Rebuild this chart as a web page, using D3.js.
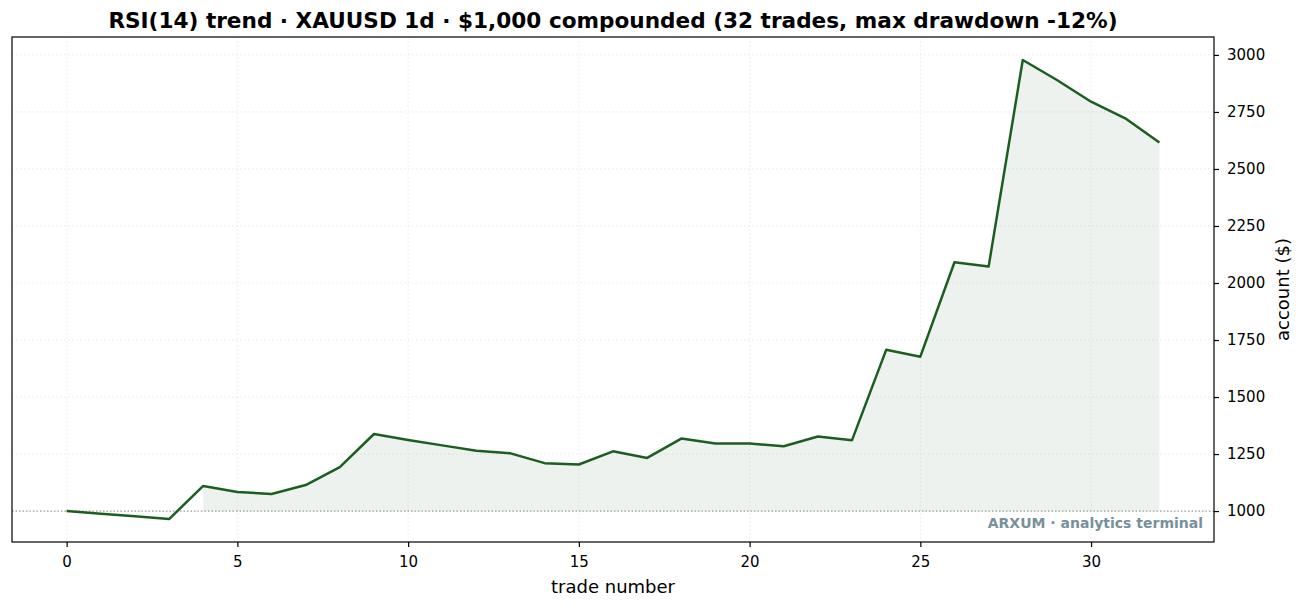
<!DOCTYPE html>
<html>
<head>
<meta charset="utf-8">
<script src="https://cdn.jsdelivr.net/npm/d3@7"></script>
<style>
  body { margin: 0; background: #fff; }
  svg text { font-family: "DejaVu Sans", sans-serif; }
</style>
</head>
<body>
<div id="chart-area"></div>
<script>
// account value after each trade
const tradeNumbers = d3.range(0, 33)
const accountValues = [
  1000, 988, 977, 965, 1110, 1084, 1075, 1114, 1193, 1338,
  1312, 1288, 1264, 1253, 1210, 1204, 1262, 1233, 1318, 1296,
  1296, 1284, 1327, 1311, 1707, 1677, 2091, 2072, 2978, 2890,
  2795, 2722, 2616
]
const startBalance = 1000
const xTicks = [0, 5, 10, 15, 20, 25, 30]
const yTicks = [1000, 1250, 1500, 1750, 2000, 2250, 2500, 2750, 3000]

const data = tradeNumbers.map((t, i) => ({ t: t, v: accountValues[i] }))

const width = 1304
const height = 608
const margin = { left: 12, right: 90, top: 37, bottom: 66 }
const chartWidth = width - margin.left - margin.right
const chartHeight = height - margin.top - margin.bottom

const svg = d3.select("#chart-area").append("svg")
  .attr("width", width)
  .attr("height", height)

const g = svg.append("g")
  .attr("transform", `translate(${margin.left}, ${margin.top})`)

// matplotlib-style 5% margins
const xPad = (d3.max(tradeNumbers) - d3.min(tradeNumbers)) * 0.05
const yMin = d3.min(accountValues), yMax = d3.max(accountValues)
const yPad = (yMax - yMin) * 0.05

const x = d3.scaleLinear()
  .domain([d3.min(tradeNumbers) - xPad, d3.max(tradeNumbers) + xPad])
  .range([0, chartWidth])

const y = d3.scaleLinear()
  .domain([yMin - yPad, yMax + yPad])
  .range([chartHeight, 0])

// grid
g.append("g").selectAll("line")
  .data(xTicks)
  .enter().append("line")
  .attr("x1", d => x(d)).attr("x2", d => x(d))
  .attr("y1", 0).attr("y2", chartHeight)
  .attr("stroke", "#e6e6e6")
  .attr("stroke-width", 0.8)
  .attr("stroke-dasharray", "1.5,2.5")

g.append("g").selectAll("line")
  .data(yTicks)
  .enter().append("line")
  .attr("x1", 0).attr("x2", chartWidth)
  .attr("y1", d => y(d)).attr("y2", d => y(d))
  .attr("stroke", "#e6e6e6")
  .attr("stroke-width", 0.8)
  .attr("stroke-dasharray", "1.5,2.5")

// fill where the account sits above the start balance
const filled = data.filter(d => d.t >= 4)
const area = d3.area()
  .x(d => x(d.t))
  .y0(y(startBalance))
  .y1(d => y(d.v))

g.append("path")
  .datum(filled)
  .attr("d", area)
  .attr("fill", "#1b5e20")
  .attr("fill-opacity", 0.08)

// start balance reference line
g.append("line")
  .attr("x1", 0).attr("x2", chartWidth)
  .attr("y1", y(startBalance)).attr("y2", y(startBalance))
  .attr("stroke", "#9e9e9e")
  .attr("stroke-width", 1.2)
  .attr("stroke-dasharray", "1.5,2")

const line = d3.line()
  .x(d => x(d.t))
  .y(d => y(d.v))

g.append("path")
  .datum(data)
  .attr("d", line)
  .attr("fill", "none")
  .attr("stroke", "#1b5e20")
  .attr("stroke-width", 2.5)
  .attr("stroke-linejoin", "round")

// axes
const xAxisCall = d3.axisBottom(x).tickValues(xTicks).tickSize(5).tickPadding(9)
  .tickFormat(d3.format("d"))
const yAxisCall = d3.axisRight(y).tickValues(yTicks).tickSize(5).tickPadding(8)
  .tickFormat(d3.format("d"))

const xAxisG = g.append("g")
  .attr("transform", `translate(0, ${chartHeight})`)
  .call(xAxisCall)
const yAxisG = g.append("g")
  .attr("transform", `translate(${chartWidth}, 0)`)
  .call(yAxisCall)

;[xAxisG, yAxisG].forEach(a => {
  a.select(".domain").remove()
  a.selectAll("text").attr("font-size", "15px").attr("fill", "#000")
    .attr("font-family", "DejaVu Sans")
  a.selectAll("line").attr("stroke", "#000").attr("stroke-width", 1.2)
})

// frame
g.append("rect")
  .attr("width", chartWidth)
  .attr("height", chartHeight)
  .attr("fill", "none")
  .attr("stroke", "#000")
  .attr("stroke-width", 1.2)

// labels
g.append("text")
  .attr("x", chartWidth / 2)
  .attr("y", chartHeight + 51)
  .attr("font-size", "18px")
  .attr("text-anchor", "middle")
  .text("trade number")

g.append("text")
  .attr("transform", `translate(${chartWidth + 75}, ${chartHeight / 2}) rotate(-90)`)
  .attr("font-size", "18px")
  .attr("text-anchor", "middle")
  .text("account ($)")

svg.append("text")
  .attr("x", margin.left + chartWidth / 2)
  .attr("y", 28)
  .attr("font-size", "21.6px")
  .attr("font-weight", "bold")
  .attr("text-anchor", "middle")
  .text("RSI(14) trend · XAUUSD 1d · $1,000 compounded (32 trades, max drawdown -12%)")

g.append("text")
  .attr("x", chartWidth - 11)
  .attr("y", chartHeight - 14)
  .attr("font-size", "14px")
  .attr("font-weight", "bold")
  .attr("fill", "#78909c")
  .attr("text-anchor", "end")
  .text("ARXUM · analytics terminal")
</script>
</body>
</html>
